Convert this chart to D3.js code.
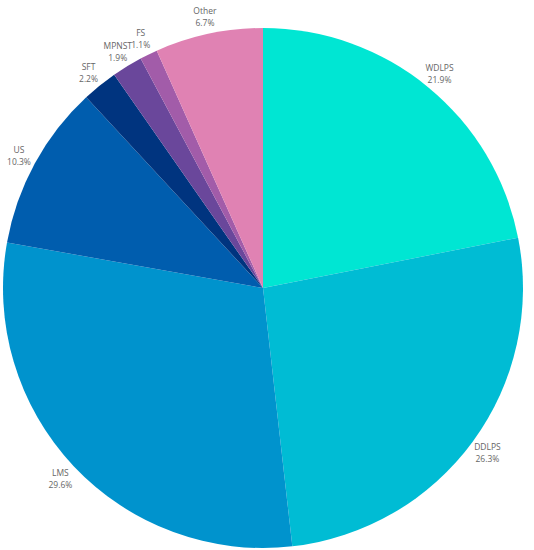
<!DOCTYPE html>
<html>
<head>
<meta charset="utf-8">
<script src="https://cdn.jsdelivr.net/npm/d3@7"></script>
<style>
  body { margin: 0; background: #fff; }
  svg text { font-family: "Open Sans", sans-serif; }
</style>
</head>
<body>
<div id="piechart"></div>
<script>
const width = 534, height = 550;

// slices, clockwise from 12 o'clock
const labels = ["WDLPS", "DDLPS", "LMS", "US", "SFT", "MPNST", "FS", "Other"];
const shares = [21.9, 26.3, 29.6, 10.3, 2.2, 1.9, 1.1, 6.7];
const colors = ["#00e6d3", "#00bcd4", "#0093cd", "#005dae", "#00347f", "#6a479b", "#a25ca9", "#e082b3"];

let cx = 263, cy = 288;
let radius = 260;
let labelRadius = 278;

let svg = d3.select("#piechart")
    .append("svg")
    .attr("width", width)
    .attr("height", height)
    .append("g")
    .attr("transform", `translate(${cx}, ${cy})`);

let data = labels.map((l, i) => ({ key: l, value: shares[i] }));

let color = d3.scaleOrdinal()
    .domain(labels)
    .range(colors);

let pie = d3.pie()
    .value(d => d.value)
    .sort(null);

let arcs = pie(data);

svg.selectAll("path")
    .data(arcs)
    .enter()
    .append("path")
    .attr("d", d3.arc().innerRadius(0).outerRadius(radius))
    .attr("fill", d => color(d.data.key));

let labelArc = d3.arc().innerRadius(labelRadius).outerRadius(labelRadius);

let lbl = svg.selectAll("g.lbl")
    .data(arcs)
    .enter()
    .append("g")
    .attr("class", "lbl")
    .attr("transform", d => `translate(${labelArc.centroid(d)})`);

lbl.append("text")
    .attr("text-anchor", "middle")
    .attr("y", -2)
    .style("font-size", "8.5px")
    .style("fill", "#666")
    .text(d => d.data.key);

lbl.append("text")
    .attr("text-anchor", "middle")
    .attr("y", 10)
    .style("font-size", "8.5px")
    .style("fill", "#666")
    .text(d => d.data.value.toFixed(1) + "%");
</script>
</body>
</html>
